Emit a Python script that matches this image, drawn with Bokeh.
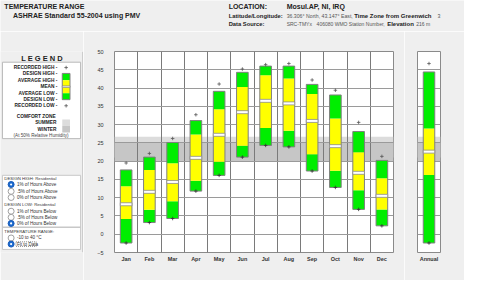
import numpy as np
from bokeh.plotting import figure
from bokeh.layouts import column, row
from bokeh.models import Range1d, FixedTicker, BoxAnnotation, ColumnDataSource
from bokeh.core.properties import value
from bokeh.embed import file_html
from bokeh.resources import INLINE

# ---------------- data ----------------
MONTHS = ["Jan", "Feb", "Mar", "Apr", "May", "Jun", "Jul", "Aug", "Sep", "Oct", "Nov", "Dec"]
REC_HIGH = [19.5, 22.1, 26.2, 32.7, 41.1, 45.2, 46.4, 46.7, 42.2, 39.4, 30.6, 21.3]
DESIGN_HIGH = [17.6, 21.1, 25.1, 31.1, 39.1, 44.3, 46.0, 46.0, 41.0, 38.1, 28.1, 20.2]
AVG_HIGH = [13.1, 17.6, 19.4, 27.3, 34.2, 40.3, 43.5, 42.6, 38.4, 31.7, 22.4, 15.3]
MEAN = [8.2, 11.6, 14.3, 20.9, 27.2, 33.4, 36.5, 35.8, 31.0, 24.1, 16.8, 10.5]
AVG_LOW = [4.2, 6.7, 9.0, 14.6, 19.8, 24.2, 29.1, 28.3, 21.9, 17.4, 12.0, 6.8]
DESIGN_LOW = [-2.4, 3.2, 4.3, 11.8, 16.1, 21.1, 24.3, 23.9, 17.3, 12.8, 6.8, 2.3]
REC_LOW = [-2.4, 3.2, 4.3, 11.8, 16.1, 21.1, 24.3, 23.9, 17.3, 12.8, 6.8, 2.3]

ANNUAL = ["Annual"]
ANN_REC_HIGH = [46.7]
ANN_DESIGN_HIGH = [44.4]
ANN_AVG_HIGH = [28.9]
ANN_MEAN = [22.6]
ANN_AVG_LOW = [16.2]
ANN_DESIGN_LOW = [-2.4]
ANN_REC_LOW = [-2.4]

SUMMER_ZONE = [21.0, 26.7]
WINTER_ZONE = [20.0, 25.0]
Y_TICKS = [-5, 0, 5, 10, 15, 20, 25, 30, 35, 40, 45, 50]

LEGEND_LABELS = ["RECORDED HIGH -", "DESIGN HIGH -", "AVERAGE HIGH -", "MEAN -",
                 "AVERAGE LOW -", "DESIGN LOW -", "RECORDED LOW -"]
DESIGN_HIGH_OPTS = ["1% of Hours Above", ".5% of Hours Above", "0% of Hours Above"]
DESIGN_LOW_OPTS = ["1% of Hours Below", ".5% of Hours Below", "0% of Hours Below"]
RANGE_OPTS = ["-10 to 40 \u00b0C", "Fit to Data"]
SEL_HIGH, SEL_LOW, SEL_RANGE = 0, 2, 1

# ---------------- style ----------------
FONT = value("Liberation Sans")
BG = "#efefef"
GREEN = "#00ee00"
YELLOW = "#ffff00"
TXT = "#222222"


def deco(w, h, x0, x1, y0, y1):
    p = figure(width=w, height=h, x_range=Range1d(x0, x1), y_range=Range1d(y1, y0),
               x_axis_location=None, y_axis_location=None, min_border=0,
               output_backend="svg", toolbar_location=None)
    p.grid.visible = False
    p.outline_line_color = None
    p.background_fill_color = BG
    p.border_fill_color = BG
    return p


def txt(p, x, y, s, size, bold=False, align="left", color=TXT):
    p.text(x=[x], y=[y], text=[s], text_font=FONT, text_font_size=value(size),
           text_font_style=value("bold" if bold else "normal"), text_align=align,
           text_baseline="middle", text_color=color)


# ---------------- header ----------------
head = deco(464, 31, 0, 480, 0, 33)
txt(head, 4, 6, "TEMPERATURE RANGE", "7px", True)
txt(head, 13, 16, "ASHRAE Standard 55-2004 using PMV", "7px", True)
txt(head, 236, 6, "LOCATION:", "7px", True)
txt(head, 296, 6, "Mosul.AP, NI, IRQ", "7px", True)
txt(head, 236, 16, "Latitude/Longitude:", "5.8px", True)
txt(head, 296, 16, "36.306\u00b0 North, 43.147\u00b0 East,", "5.2px", False, color="#555")
txt(head, 366, 16, "Time Zone from Greenwich", "6px", True)
txt(head, 452, 16, "3", "5.2px", False, color="#555")
txt(head, 236, 24.5, "Data Source:", "5.8px", True)
txt(head, 296, 24.5, "SRC-TMYx", "5px", False, color="#555")
txt(head, 327, 24.5, "406080 WMO Station Number,", "5px", False, color="#555")
txt(head, 400, 24.5, "Elevation", "6px", True)
txt(head, 430, 24.5, "216 m", "5px", False, color="#555")

# ---------------- left panel ----------------
left = deco(83, 249, 0, 86, 33, 296)
left.segment(x0=[85.5], y0=[33], x1=[85.5], y1=[296], line_color="#a8a8a8", line_width=1)
txt(left, 43, 42.5, "L E G E N D", "7.5px", True, align="center")
left.quad(left=[2], right=[83], top=[47], bottom=[147], fill_color="white", line_color="#b8b8b8")
leg_y = [54, 62, 71, 79, 88, 96, 104]
for yy, lab in zip(leg_y, LEGEND_LABELS):
    txt(left, 59, yy, lab, "4.8px", True, align="right")
# legend swatch bar
left.quad(left=[64, 64, 64, 64], right=[72, 72, 72, 72],
          top=[61.7, 70.7, 79, 87.7], bottom=[70.7, 79, 87.7, 96],
          fill_color=[GREEN, YELLOW, YELLOW, GREEN], line_color=None)
left.quad(left=[64], right=[72], top=[61.7], bottom=[96], fill_color=None, line_color="#808080")
left.quad(left=[64], right=[72], top=[78], bottom=[80], fill_color="white", line_color="#8c8c8c", line_width=0.8)
left.scatter(x=[68, 68], y=[54, 104], marker="cross", size=3.5, line_width=0.8, line_color="#555555")
txt(left, 37, 118, "COMFORT ZONE", "4.8px", True, align="center")
txt(left, 58, 126, "SUMMER", "4.8px", True, align="right")
txt(left, 58, 134.5, "WINTER", "4.8px", True, align="right")
left.quad(left=[64, 64], right=[72, 72], top=[122, 130], bottom=[130, 139],
          fill_color=["#dcdcdc", "#c6c6c6"], line_color=None)
txt(left, 42, 143, "(At 50% Relative Humidity)", "4.6px", False, align="center", color="#444")

# radio box
left.quad(left=[2], right=[83], top=[195], bottom=[292], fill_color="white", line_color="#c8c8c8")
left.segment(x0=[2], y0=[263], x1=[83], y1=[263], line_color="#c8c8c8", line_width=1.5)
txt(left, 4, 199, "DESIGN HIGH:  Residential", "4.3px", False, color="#333")
txt(left, 4, 233, "DESIGN LOW:  Residential", "4.3px", False, color="#333")
txt(left, 4, 269, "TEMPERATURE RANGE:", "4.3px", False, color="#333")
groups = [(DESIGN_HIGH_OPTS, [207, 216, 224], SEL_HIGH),
          (DESIGN_LOW_OPTS, [242, 250, 258], SEL_LOW),
          (RANGE_OPTS, [277, 285], SEL_RANGE)]
for opts, ys, sel in groups:
    for i, (lab, yy) in enumerate(zip(opts, ys)):
        if i == sel:
            left.scatter(x=[11], y=[yy], marker="circle", size=6, fill_color="#1a6ad0", line_color="#1a5cb8")
            left.scatter(x=[11], y=[yy], marker="circle", size=2.2, fill_color="white", line_color=None)
        else:
            left.scatter(x=[11], y=[yy], marker="circle", size=6, fill_color="white", line_color="#a0a0a0")
        txt(left, 17, yy, lab, "4.6px", False, color="#333")
left.quad(left=[16], right=[37], top=[282], bottom=[288], fill_color=None,
          line_color="#555555", line_dash="1 1", line_width=0.7)


# ---------------- chart ----------------
def style_chart(p):
    p.background_fill_color = "white"
    p.border_fill_color = BG
    p.outline_line_color = "#8a8a8a"
    p.yaxis.ticker = FixedTicker(ticks=Y_TICKS)
    p.ygrid.ticker = FixedTicker(ticks=Y_TICKS)
    p.ygrid.grid_line_color = "#9a9a9a"
    p.ygrid.grid_line_width = 1.2
    for ax in p.axis:
        ax.axis_line_color = None
        ax.major_tick_line_color = None
        ax.minor_tick_line_color = None
        ax.major_tick_out = 0
        ax.major_tick_in = 0
        ax.minor_tick_out = 0
        ax.minor_tick_in = 0
        ax.major_label_text_font = "Liberation Sans"
        ax.major_label_text_font_size = "5.5px"
        ax.major_label_text_color = "#333333"
    p.xaxis.major_label_standoff = 3
    p.xaxis.major_label_text_font_style = "bold"
    for lo_hi, col in ((SUMMER_ZONE, "#dcdcdc"), (WINTER_ZONE, "#c6c6c6")):
        p.add_layout(BoxAnnotation(bottom=lo_hi[0], top=lo_hi[1], fill_color=col, fill_alpha=1,
                                   line_alpha=0, level="image"))


def draw_bars(p, src):
    p.vbar(x="x", width=0.5, bottom="dl", top="al", fill_color=GREEN, line_color=None, source=src)
    p.vbar(x="x", width=0.5, bottom="al", top="ah", fill_color=YELLOW, line_color=None, source=src)
    p.vbar(x="x", width=0.5, bottom="ah", top="dh", fill_color=GREEN, line_color=None, source=src)
    p.vbar(x="x", width=0.5, bottom="dl", top="dh", fill_color=None, line_color="#7f7f7f",
           line_width=1, source=src)
    p.rect(x="x", y="mean", width=0.5, height=3, height_units="screen", fill_color="white",
           line_color="#8c8c8c", line_width=0.8, source=src)
    p.scatter(x="x", y="rh", marker="cross", size=3.5, line_width=0.8, line_color="#555555", source=src)
    p.scatter(x="x", y="rl", marker="cross", size=3.5, line_width=0.8, line_color="#333333", source=src)


n = len(MONTHS)
cx = np.arange(n) + 0.5
msrc = ColumnDataSource(dict(x=cx, rh=REC_HIGH, dh=DESIGN_HIGH, ah=AVG_HIGH, mean=MEAN,
                             al=AVG_LOW, dl=DESIGN_LOW, rl=REC_LOW))
chart = figure(width=321, height=249, x_range=Range1d(0, n), y_range=Range1d(Y_TICKS[0], Y_TICKS[-1]),
               min_border_left=31, min_border_right=11, min_border_top=20, min_border_bottom=28,
               output_backend="svg", toolbar_location=None)
style_chart(chart)
chart.xaxis.ticker = FixedTicker(ticks=list(cx))
chart.xaxis.major_label_overrides = {float(c): m for c, m in zip(cx, MONTHS)}
chart.xgrid.ticker = FixedTicker(ticks=list(range(n + 1)))
chart.xgrid.grid_line_color = "#7a7a7a"
chart.xgrid.grid_line_width = 1
chart.yaxis.major_label_standoff = 11
draw_bars(chart, msrc)

asrc = ColumnDataSource(dict(x=[0.5], rh=ANN_REC_HIGH, dh=ANN_DESIGN_HIGH, ah=ANN_AVG_HIGH,
                             mean=ANN_MEAN, al=ANN_AVG_LOW, dl=ANN_DESIGN_LOW, rl=ANN_REC_LOW))
ann = figure(width=60, height=249, x_range=Range1d(0, 1), y_range=Range1d(Y_TICKS[0], Y_TICKS[-1]),
             y_axis_location=None,
             min_border_left=13, min_border_right=24, min_border_top=20, min_border_bottom=28,
             output_backend="svg", toolbar_location=None)
style_chart(ann)
ann.xaxis.ticker = FixedTicker(ticks=[0.5])
ann.xaxis.major_label_overrides = {0.5: ANNUAL[0]}
ann.xgrid.visible = False
draw_bars(ann, asrc)

layout = column(head, row(left, chart, ann))
open("out.html", "w").write(file_html(layout, INLINE))
